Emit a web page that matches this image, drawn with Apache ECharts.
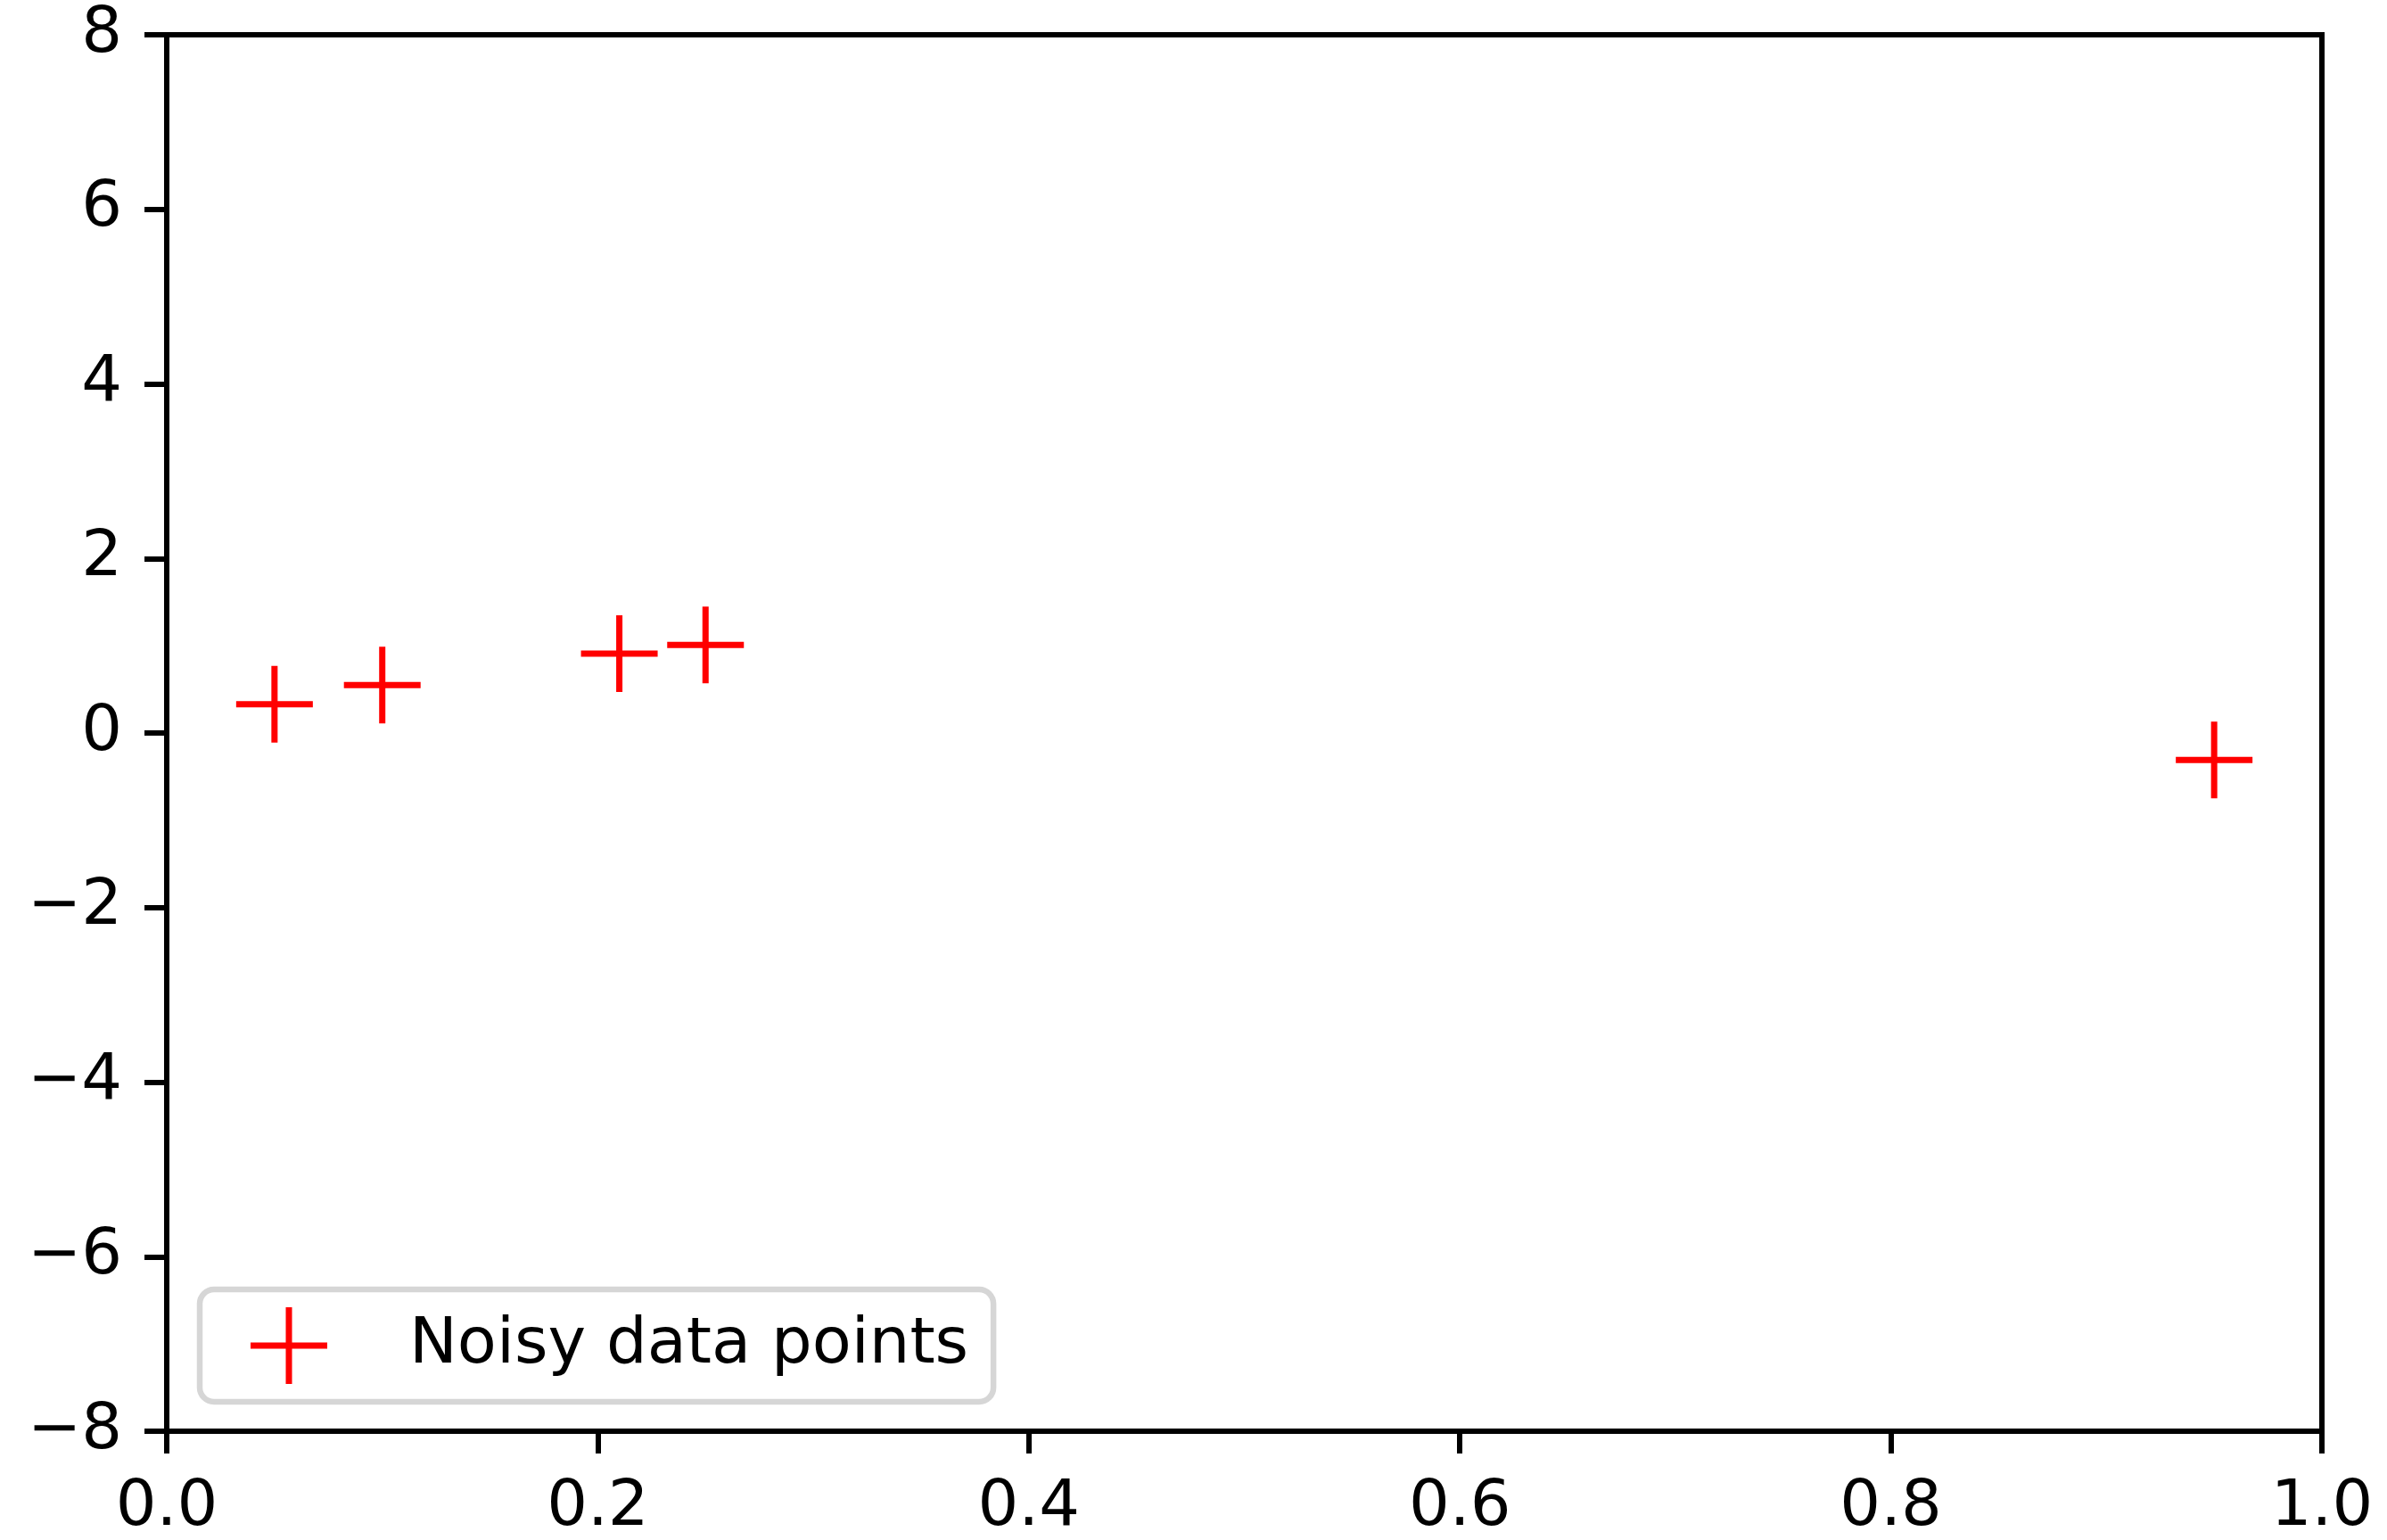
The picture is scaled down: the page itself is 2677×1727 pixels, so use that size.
<!DOCTYPE html>
<html>
<head>
<meta charset="utf-8">
<script src="https://cdn.jsdelivr.net/npm/echarts@6/dist/echarts.min.js"></script>
<style>html,body{margin:0;padding:0;background:#fff;}#c{width:2677px;height:1727px;}</style>
</head>
<body>
<div id="c"></div>
<script>
var xValues = [0.05, 0.10, 0.21, 0.25, 0.95];
var yValues = [0.33, 0.55, 0.91, 1.01, -0.31];
var seriesName = 'Noisy data points';
var xTicks = {min: 0, max: 1, interval: 0.2};
var yTicks = {min: -8, max: 8, interval: 2};

var plusPath = 'path://M39.5,0h7v86h-7zM0,39.5h86v7h-86z';
var pts = xValues.map(function (x, i) { return [x, yValues[i]]; });
var font = 'DejaVu Sans';

var chart = echarts.init(document.getElementById('c'), null, {renderer: 'canvas'});
chart.setOption({
  animation: false,
  backgroundColor: '#fff',
  grid: {left: 187, right: 73, top: 39, bottom: 118, show: true, borderColor: '#000', borderWidth: 6, backgroundColor: 'transparent'},
  xAxis: {
    type: 'value', min: xTicks.min, max: xTicks.max, interval: xTicks.interval,
    splitLine: {show: false},
    axisLine: {show: true, onZero: false, lineStyle: {color: '#000', width: 6}},
    axisTick: {show: true, inside: false, length: 25, lineStyle: {color: '#000', width: 6}},
    axisLabel: {margin: 50, fontSize: 72, fontFamily: font, color: '#000',
      formatter: function (v) { return v.toFixed(1); }}
  },
  yAxis: {
    type: 'value', min: yTicks.min, max: yTicks.max, interval: yTicks.interval,
    splitLine: {show: false},
    axisLine: {show: true, onZero: false, lineStyle: {color: '#000', width: 6}},
    axisTick: {show: true, inside: false, length: 25, lineStyle: {color: '#000', width: 6}},
    axisLabel: {margin: 50, fontSize: 72, fontFamily: font, color: '#000',
      formatter: function (v) { return String(v).replace('-', '\u2212'); }}
  },
  legend: {
    show: true, left: 224, top: 1446, orient: 'vertical',
    padding: [20, 28, 20, 57],
    borderColor: '#d6d6d6', borderWidth: 6.5, borderRadius: 16, backgroundColor: '#fff',
    itemWidth: 86, itemHeight: 86,
    icon: plusPath,
    formatter: function (name) { return '{g|}{t|' + name + '}'; },
    textStyle: {fontSize: 72, fontFamily: font, color: '#000',
      rich: {g: {width: 87, fontSize: 72}, t: {fontSize: 72, fontFamily: font, color: '#000'}}},
    data: [seriesName]
  },
  series: [{
    name: seriesName, type: 'scatter',
    symbol: plusPath, symbolSize: [86, 86],
    itemStyle: {color: '#ff0000', opacity: 1},
    emphasis: {disabled: true},
    data: pts
  }]
});
</script>
</body>
</html>
